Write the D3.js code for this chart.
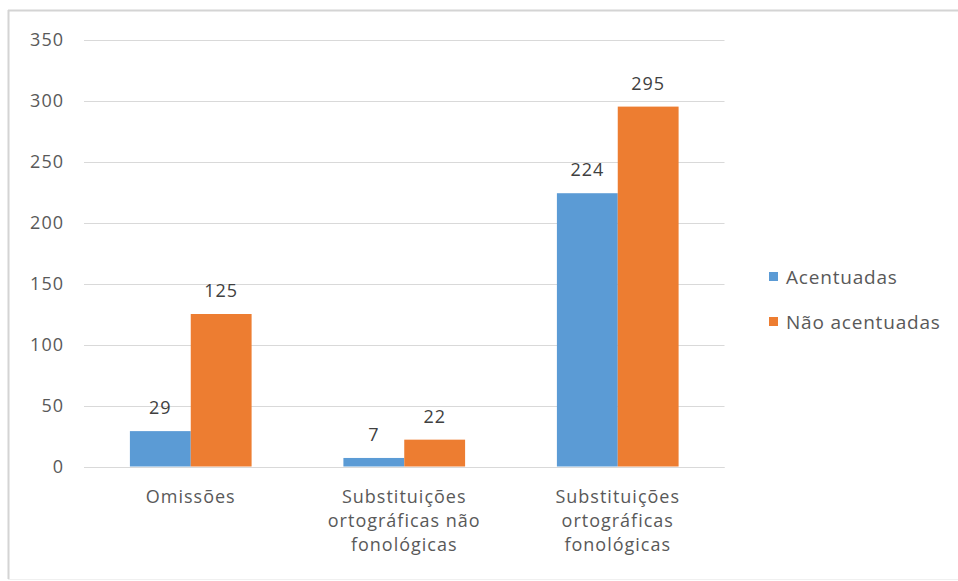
<!DOCTYPE html>
<html><head><meta charset="utf-8">
<script src="https://cdn.jsdelivr.net/npm/d3@7"></script>
<style>body{margin:0;background:#fff}svg{display:block}text{font-family:"Open Sans","Noto Sans",sans-serif}</style>
</head><body>
<script>
const categories = [["Omissões"], ["Substituições", "ortográficas não", "fonológicas"], ["Substituições", "ortográficas", "fonológicas"]];
const seriesNames = ["Acentuadas", "Não acentuadas"];
const acentuadas = [29, 7, 224];
const naoAcentuadas = [125, 22, 295];
const yTicks = [0, 50, 100, 150, 200, 250, 300, 350];
const colors = ["#5b9bd5", "#ed7d31"];

const W = 958, H = 581;
const svg = d3.select("body").append("svg").attr("width", W).attr("height", H);

// frame
svg.append("line").attr("x1", 8).attr("x2", W).attr("y1", 10.5).attr("y2", 10.5).attr("stroke", "#d4d4d4").attr("stroke-width", 2);
svg.append("line").attr("x1", 8.5).attr("x2", 8.5).attr("y1", 10).attr("y2", 579).attr("stroke", "#d4d4d4").attr("stroke-width", 2);
svg.append("line").attr("x1", 8).attr("x2", W).attr("y1", 579.5).attr("y2", 579.5).attr("stroke", "#f0f0f0").attr("stroke-width", 1);

const x0 = 84, x1 = 724.5;
const y = d3.scaleLinear().domain([0, 350]).range([466.5, 39.5]);
const xb = d3.scaleBand().domain(d3.range(categories.length)).range([x0, x1]).paddingInner(0.43).paddingOuter(0.215);
const xs = d3.scaleBand().domain([0, 1]).range([0, xb.bandwidth()]);

// gridlines
svg.append("g").selectAll("line").data(yTicks).join("line")
  .attr("x1", x0).attr("x2", x1)
  .attr("y1", d => Math.round(y(d)) + 0.5).attr("y2", d => Math.round(y(d)) + 0.5)
  .attr("stroke", "#d9d9d9").attr("stroke-width", 1);

// y axis labels
const yAxis = d3.axisLeft(y).tickValues(yTicks).tickSize(0).tickPadding(0);
const gy = svg.append("g").attr("transform", "translate(64,0)").call(yAxis);
gy.select(".domain").remove();
gy.selectAll("text").attr("fill", "#595959").style("font-size", "18px").style("letter-spacing", "1px").style("font-family", '"Open Sans",sans-serif');

// bars
const series = [acentuadas, naoAcentuadas];
series.forEach((vals, si) => {
  const g = svg.append("g");
  g.selectAll("rect").data(vals).join("rect")
    .attr("x", (d, i) => xb(i) + xs(si))
    .attr("width", xs.bandwidth())
    .attr("y", d => y(d))
    .attr("height", d => y(0) - y(d))
    .attr("fill", colors[si]);
  g.selectAll("text").data(vals).join("text")
    .attr("x", (d, i) => xb(i) + xs(si) + xs.bandwidth() / 2)
    .attr("y", d => y(d) - 17)
    .attr("text-anchor", "middle")
    .attr("fill", "#404040")
    .style("font-size", "18px").style("letter-spacing", "1px")
    .text(d => d);
});

// baseline
svg.append("line").attr("x1", x0).attr("x2", x1).attr("y1", Math.round(y(0)) + 0.5).attr("y2", Math.round(y(0)) + 0.5).attr("stroke", "#d9d9d9");

// category labels
categories.forEach((lines, i) => {
  const t = svg.append("text").attr("text-anchor", "middle").attr("fill", "#595959").style("font-size", "18px").style("letter-spacing", "1px");
  lines.forEach((l, j) => {
    t.append("tspan").attr("x", xb(i) + xb.bandwidth() / 2).attr("y", 503 + j * 24).text(l);
  });
});

// legend
seriesNames.forEach((n, i) => {
  const yy = 277 + i * 45;
  svg.append("rect").attr("x", 769).attr("y", yy - 5).attr("width", 9).attr("height", 9).attr("fill", colors[i]);
  svg.append("text").attr("x", 786).attr("y", yy + 7).attr("fill", "#595959").style("font-size", "19px").style("letter-spacing", "0.8px").text(n);
});
</script>
</body></html>
